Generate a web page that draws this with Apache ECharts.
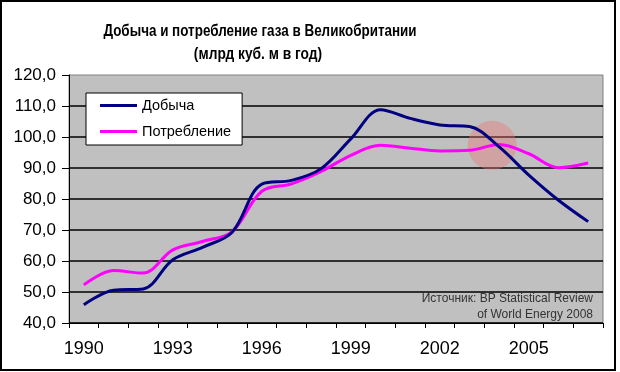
<!DOCTYPE html>
<html>
<head>
<meta charset="utf-8">
<script src="https://cdn.jsdelivr.net/npm/echarts@6/dist/echarts.min.js"></script>
<style>html,body{margin:0;padding:0;background:#fff;}#c{width:620px;height:372px;}</style>
</head>
<body>
<div id="c"></div>
<script>
var years = ['1990','1991','1992','1993','1994','1995','1996','1997','1998','1999','2000','2001','2002','2003','2004','2005','2006','2007'];
var production = [45.9, 50.6, 51.0, 60.4, 64.4, 69.3, 84.8, 86.0, 89.8, 99.4, 108.8, 106.0, 103.9, 103.4, 96.8, 87.7, 79.6, 72.7];
var consumption = [52.3, 56.9, 56.1, 63.6, 66.3, 69.5, 82.5, 84.9, 88.9, 94.1, 97.3, 96.4, 95.5, 95.7, 97.6, 94.6, 90.1, 91.6];
var highlight = [['2004', 97.3]];
var seriesNames = ['Добыча', 'Потребление'];
var titleLines = ['Добыча и потребление газа в Великобритании', '(млрд куб. м в год)'];
var sourceLines = ['Источник: BP Statistical Review', 'of World Energy 2008'];

var chart = echarts.init(document.getElementById('c'), null, {renderer: 'canvas'});
var font = 'Arial, "Liberation Sans", sans-serif';
chart.setOption({
  animation: false,
  backgroundColor: '#ffffff',
  grid: {left: 69, right: 17, top: 75, bottom: 49, show: true, backgroundColor: '#c0c0c0', borderColor: '#808080', borderWidth: 1},
  legend: {
    orient: 'vertical', left: 86, top: 93,
    data: seriesNames,
    icon: 'rect', itemWidth: 37, itemHeight: 3, itemGap: 11,
    backgroundColor: '#ffffff', borderColor: '#000000', borderWidth: 1,
    padding: [5, 11, 6, 14],
    textStyle: {fontFamily: font, fontSize: 14.5, color: '#000'}
  },
  xAxis: {
    type: 'category', data: years, boundaryGap: true,
    axisLine: {lineStyle: {color: '#000', width: 1}},
    axisTick: {show: true, interval: 0, length: 5, lineStyle: {color: '#000'}},
    axisLabel: {interval: 2, fontFamily: font, fontSize: 18, color: '#000', margin: 17},
    splitLine: {show: false}
  },
  yAxis: {
    type: 'value', min: 40, max: 120, interval: 10,
    axisLine: {show: true, lineStyle: {color: '#000', width: 1}},
    axisTick: {show: true, length: 7, lineStyle: {color: '#000'}},
    axisLabel: {fontFamily: font, fontSize: 17, color: '#000', margin: 13,
      formatter: function (v) { return v.toFixed(1).replace('.', ','); }},
    splitLine: {show: true, showMaxLine: false, lineStyle: {color: '#000', width: 1.5}}
  },
  series: [
    {name: 'highlight', type: 'scatter', data: highlight, symbol: 'circle', symbolSize: 49, symbolOffset: [-7, 0],
     itemStyle: {color: 'rgba(232,118,118,0.5)'}, silent: true, z: 1},
    {name: seriesNames[0], type: 'line', data: production, smooth: 0.35, showSymbol: false, z: 3,
     itemStyle: {color: '#000080'}, lineStyle: {color: '#000080', width: 3}},
    {name: seriesNames[1], type: 'line', data: consumption, smooth: 0.35, showSymbol: false, z: 2,
     itemStyle: {color: '#ff00ff'}, lineStyle: {color: '#ff00ff', width: 3}}
  ],
  graphic: [
    {type: 'rect', shape: {x: 1, y: 1, width: 614, height: 369}, style: {fill: 'none', stroke: '#000', lineWidth: 2}, z: 100, silent: true},
    {type: 'text', x: 260, y: 31, scaleX: 0.79, style: {text: titleLines[0], font: 'bold 17px Arial, "Liberation Sans", sans-serif', fill: '#000', textAlign: 'center', textVerticalAlign: 'middle'}},
    {type: 'text', x: 258, y: 54, scaleX: 0.81, style: {text: titleLines[1], font: 'bold 17px Arial, "Liberation Sans", sans-serif', fill: '#000', textAlign: 'center', textVerticalAlign: 'middle'}},
    {type: 'text', x: 593, y: 299, z: 50, style: {text: sourceLines[0], font: '12px Arial, "Liberation Sans", sans-serif', fill: '#333', textAlign: 'right', textVerticalAlign: 'middle'}},
    {type: 'text', x: 593, y: 315, z: 50, style: {text: sourceLines[1], font: '12px Arial, "Liberation Sans", sans-serif', fill: '#333', textAlign: 'right', textVerticalAlign: 'middle'}}
  ]
});
</script>
</body>
</html>
